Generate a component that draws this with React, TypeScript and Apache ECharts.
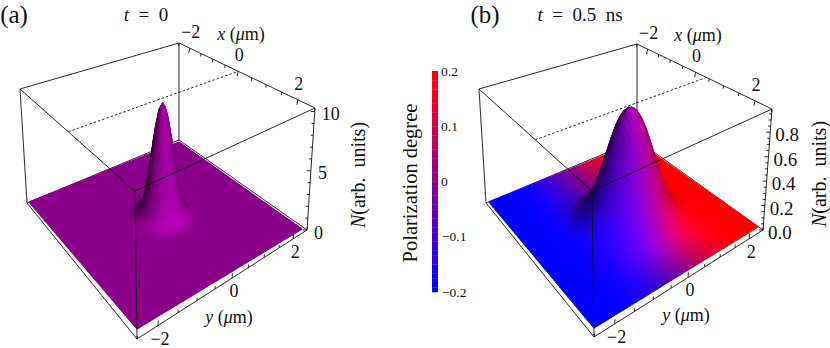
import React, { useEffect, useRef } from "react";
import * as echarts from "echarts";

// ---- values ----
const radiusUm = [0, 0.1, 0.2, 0.3, 0.4, 0.5, 0.6, 0.7, 0.8, 0.9, 1.0, 1.25, 1.5, 1.75, 2.0, 2.5, 4];
const densityA = [9.9, 9.1, 7.2, 4.85, 2.8, 1.35, 0.55, 0.2, 0.06, 0.015, 0, 0, 0, 0, 0, 0, 0];
const densityB = [0.97, 0.955, 0.915, 0.85, 0.765, 0.66, 0.56, 0.455, 0.36, 0.275, 0.205, 0.085, 0.03, 0.009, 0.002, 0, 0];
const polarY = [-2.5, -2, -1.5, -1, -0.5, 0, 0.5, 1, 1.5, 2, 2.5];
const polarB = [-0.2, -0.2, -0.18, -0.135, -0.07, 0, 0.075, 0.135, 0.178, 0.197, 0.2];
const polarA = [0, 0, 0, 0, 0, 0, 0, 0, 0, 0, 0];
const peakCentreA = 0;
const peakCentreB = 0.4;

const planeTicks = [-2.5, -2, -1.5, -1, -0.5, 0, 0.5, 1, 1.5, 2, 2.5];
const planeLabels = [-2, 0, 2];
const zTicksA = [0, 1, 2, 3, 4, 5, 6, 7, 8, 9, 10];
const zLabelsA = [0, 5, 10];
const zTicksB = [0, 0.05, 0.1, 0.15, 0.2, 0.25, 0.3, 0.35, 0.4, 0.45, 0.5, 0.55, 0.6, 0.65, 0.7, 0.75, 0.8, 0.85, 0.9, 0.95];
const zLabelsB = [0, 0.2, 0.4, 0.6, 0.8];
const colorbarLabels = [0.2, 0.1, 0, -0.1, -0.2];

// ---- layout ----
type P = [number, number];
const SERIF = "'Liberation Serif','Times New Roman',serif";
const WIDTH = 830;
const HEIGHT = 348;
const HALF = 2.5;

interface Panel {
  top: P[]; surface: P[]; bottom: P[]; zTop: number; steps: number; centre: number;
  radial: number[]; polar: number[]; zTicks: number[]; zLabels: number[]; zDigits: number;
}
// corner order: left (-,-), front (+,-), right (+,+), back (-,+)
const panelA: Panel = {
  top: [[20, 89], [135, 191], [315, 108], [179, 43]],
  surface: [[29, 202], [137, 329], [302, 229], [179, 142]],
  bottom: [[27, 203], [137, 339], [307, 230], [179, 140]],
  zTop: 10.3, steps: 80, centre: peakCentreA, radial: densityA, polar: polarA,
  zTicks: zTicksA, zLabels: zLabelsA, zDigits: 0,
};
const panelB: Panel = {
  top: [[479, 89], [592, 191], [772, 109], [637, 44]],
  surface: [[489, 202], [594, 328], [758, 227], [637, 142]],
  bottom: [[486, 203], [594, 337], [763, 230], [637, 140]],
  zTop: 0.99, steps: 60, centre: peakCentreB, radial: densityB, polar: polarB,
  zTicks: zTicksB, zLabels: zLabelsB, zDigits: 1,
};

function homography(q: P[]) {
  const [[x0, y0], [x1, y1], [x2, y2], [x3, y3]] = q;
  const dx1 = x1 - x2, dx2 = x3 - x2, dx3 = x0 - x1 + x2 - x3;
  const dy1 = y1 - y2, dy2 = y3 - y2, dy3 = y0 - y1 + y2 - y3;
  const den = dx1 * dy2 - dx2 * dy1;
  const g = (dx3 * dy2 - dx2 * dy3) / den;
  const h = (dx1 * dy3 - dx3 * dy1) / den;
  const a = x1 - x0 + g * x1, b = x3 - x0 + h * x3, d = y1 - y0 + g * y1, e = y3 - y0 + h * y3;
  return (x: number, y: number): P => {
    const u = (x + HALF) / (2 * HALF), v = (y + HALF) / (2 * HALF);
    const w = g * u + h * v + 1;
    return [(a * u + b * v + x0) / w, (d * u + e * v + y0) / w];
  };
}

// smooth read-out of a table of picture values
function lookup(xs: number[], ys: number[], v: number) {
  if (v <= xs[0]) return ys[0];
  const n = xs.length - 1;
  if (v >= xs[n]) return ys[n];
  let i = 0;
  while (xs[i + 1] < v) i++;
  const h = xs[i + 1] - xs[i];
  const t = (v - xs[i]) / h;
  const m0 = i > 0 ? (ys[i + 1] - ys[i - 1]) / (xs[i + 1] - xs[i - 1]) : 0;
  const m1 = i < n - 1 ? (ys[i + 2] - ys[i]) / (xs[i + 2] - xs[i]) : 0;
  const t2 = t * t, t3 = t2 * t;
  return (2 * t3 - 3 * t2 + 1) * ys[i] + (t3 - 2 * t2 + t) * h * m0 + (-2 * t3 + 3 * t2) * ys[i + 1] + (t3 - t2) * h * m1;
}

const LIGHT = (() => {
  const l = [0.75, -0.15, 0.65];
  const n = Math.hypot(l[0], l[1], l[2]);
  return l.map((c) => c / n);
})();

const COLOUR_GAIN = 278;

function buildSurface(p: Panel) {
  const h0 = homography(p.surface);
  const h1 = homography(p.top);
  const height = (x: number, y: number) => Math.max(0, lookup(radiusUm, p.radial, Math.hypot(x - p.centre, y)));
  const project = (x: number, y: number): P => {
    const f = height(x, y) / p.zTop;
    const a = h0(x, y), b = h1(x, y);
    return [a[0] + (b[0] - a[0]) * f, a[1] + (b[1] - a[1]) * f];
  };
  const pxPerZ = 118 / p.zTop;
  const pxPerUm = 39;
  const cells: { pts: P[]; fill: string; key: number }[] = [];
  const d = (2 * HALF) / p.steps;
  for (let i = 0; i < p.steps; i++) {
    for (let j = 0; j < p.steps; j++) {
      const x0 = -HALF + i * d, y0 = -HALF + j * d;
      const cx = x0 + d / 2, cy = y0 + d / 2;
      const hx = ((height(cx + d / 2, cy) - height(cx - d / 2, cy)) / d) * pxPerZ / pxPerUm;
      const hy = ((height(cx, cy + d / 2) - height(cx, cy - d / 2)) / d) * pxPerZ / pxPerUm;
      const nl = Math.hypot(hx, hy, 1);
      const dot = (-hx * LIGHT[0] - hy * LIGHT[1] + LIGHT[2]) / nl;
      const shade = Math.max(0.38, Math.min(1.35, (0.35 + 0.85 * dot) / (0.35 + 0.85 * LIGHT[2])));
      const pol = lookup(polarY, p.polar, cy);
      const t = (pol + 0.2) / 0.4;
      const r = Math.min(255, Math.min(255, COLOUR_GAIN * t) * shade);
      const b = Math.min(255, Math.min(255, COLOUR_GAIN * (1 - t)) * shade);
      cells.push({
        pts: [project(x0, y0), project(x0 + d, y0), project(x0 + d, y0 + d), project(x0, y0 + d)],
        fill: `rgb(${Math.round(r)},0,${Math.round(b)})`,
        key: cx - cy,
      });
    }
  }
  cells.sort((a, b) => a.key - b.key);
  return cells;
}

interface Seg { a: P; b: P; dash?: boolean }

function backSegments(p: Panel): Seg[] {
  const t = p.top, b = p.bottom;
  const h1 = homography(t);
  return [
    { a: t[0], b: t[3] }, { a: t[3], b: t[2] }, { a: b[3], b: t[3] },
    { a: b[0], b: b[3] }, { a: b[3], b: b[2] },
    { a: h1(p.centre, -HALF), b: h1(p.centre, HALF), dash: true },
  ];
}
function frontSegments(p: Panel): Seg[] {
  const t = p.top, b = p.bottom;
  const out: Seg[] = [
    { a: t[0], b: t[1] }, { a: t[1], b: t[2] },
    { a: t[0], b: b[0] }, { a: t[1], b: b[1] }, { a: t[2], b: b[2] },
    { a: b[0], b: b[1] }, { a: b[1], b: b[2] },
  ];
  const hTop = homography(t), hBot = homography(b);
  planeTicks.forEach((v) => {
    const major = planeLabels.includes(v);
    const q = hTop(v, HALF);
    out.push({ a: q, b: [q[0] - (major ? 1 : 0.5), q[1] + (major ? 5 : 3)] });
    const s = hBot(HALF, v);
    out.push({ a: s, b: [s[0] + 0.3, s[1] - (major ? 5 : 3)] });
  });
  p.zTicks.forEach((v) => {
    const q = zPoint(p, v);
    const major = p.zLabels.includes(v);
    out.push({ a: q, b: [q[0] - (major ? 4 : 2.5), q[1]] });
  });
  return out;
}
function zPoint(p: Panel, v: number): P {
  const f = v / p.zTop;
  const a = p.bottom[2], b = p.top[2];
  return [a[0] + (b[0] - a[0]) * f, a[1] + (b[1] - a[1]) * f];
}

const italic = { fontStyle: "italic" as const, fontFamily: SERIF };

function label(text: string, x: number, y: number, size: number, align = "center", rotation = 0): any {
  return {
    type: "text", x, y, rotation, silent: true,
    style: {
      text, fill: "#111", fontFamily: SERIF, fontSize: size, align, verticalAlign: "middle",
      rich: {
        i: { ...italic, fontSize: size, fill: "#111" },
      },
    },
  };
}
const fmt = (v: number, digits: number) => (v < 0 ? "\u2212" : "") + Math.abs(v).toFixed(digits);

function panelTexts(p: Panel, zSize: number, zOff: number) {
  const hTop = homography(p.top), hBot = homography(p.bottom);
  const out: any[] = [];
  planeLabels.forEach((v) => {
    const q = hTop(v, HALF);
    out.push(label(fmt(v, 0), q[0] + 1, q[1] - 16, 18));
    const s = hBot(HALF, v);
    out.push(label(fmt(v, 0), s[0] + 2, s[1] + 13, 18));
  });
  p.zLabels.forEach((v) => {
    const q = zPoint(p, v);
    out.push(label(fmt(v, p.zDigits), q[0] + zOff, q[1] + 2.5, zSize, "left"));
  });
  return out;
}

function lineSeries(segs: Seg[], z: number): any {
  return {
    type: "custom", coordinateSystem: "cartesian2d", silent: true, z, clip: false, progressive: 0,
    data: segs.map((s) => [s.a[0], s.a[1], s.b[0], s.b[1], s.dash ? 1 : 0]),
    renderItem: (_: any, api: any) => {
      const a = api.coord([api.value(0), api.value(1)]);
      const b = api.coord([api.value(2), api.value(3)]);
      return {
        type: "line", shape: { x1: a[0], y1: a[1], x2: b[0], y2: b[1] },
        style: { stroke: "#111", lineWidth: 0.9, lineDash: api.value(4) ? [2.5, 2] : null, fill: null },
      };
    },
  };
}

function surfaceSeries(p: Panel, z: number): any {
  const cells = buildSurface(p);
  return {
    type: "custom", coordinateSystem: "cartesian2d", silent: true, z, clip: false, progressive: 0,
    data: cells.map((c) => [c.pts[0][0], c.pts[0][1]]),
    renderItem: (params: any, api: any) => {
      const c = cells[params.dataIndex];
      return {
        type: "polygon",
        shape: { points: c.pts.map((q) => api.coord(q)) },
        style: { fill: c.fill, stroke: c.fill, lineWidth: 1.1, lineJoin: "round" },
      };
    },
  };
}

const BAR_X0 = 432, BAR_X1 = 438, BAR_TOP = 71, BAR_BOTTOM = 292, BAR_BANDS = 48;
function colorbarSeries(): any {
  const bands = Array.from({ length: BAR_BANDS }, (_, i) => i);
  return {
    type: "custom", coordinateSystem: "cartesian2d", silent: true, z: 2, clip: false, progressive: 0,
    data: bands.map((i) => [i]),
    renderItem: (_: any, api: any) => {
      const i = api.value(0);
      const h = (BAR_BOTTOM - BAR_TOP) / BAR_BANDS;
      const a = api.coord([BAR_X0, BAR_TOP + i * h]);
      const b = api.coord([BAR_X1, BAR_TOP + (i + 1) * h]);
      const t = 1 - (i + 0.5) / BAR_BANDS;
      const fill = `rgb(${Math.round(Math.min(255, COLOUR_GAIN * t))},0,${Math.round(Math.min(255, COLOUR_GAIN * (1 - t)))})`;
      return {
        type: "rect", shape: { x: a[0], y: a[1], width: b[0] - a[0], height: b[1] - a[1] + 0.3 },
        style: { fill },
      };
    },
  };
}

function buildOption(): any {
  const hidden = { show: false };
  const texts: any[] = [
    label("(a)", 14, 14, 25),
    label("{i|t}  =  0", 146, 14, 19),
    label("(b)", 485, 14, 25),
    label("{i|t}  =  0.5  ns", 580, 14, 19),
    label("{i|x} ({i|\u03bc}m)", 241, 34, 18),
    label("{i|x} ({i|\u03bc}m)", 698, 35, 18),
    label("{i|y} ({i|\u03bc}m)", 229, 317, 18),
    label("{i|y} ({i|\u03bc}m)", 686, 315, 18),
    label("{i|N}(arb.  units)", 358, 175, 20, "center", Math.PI / 2),
    label("{i|N}(arb.  units)", 819, 174, 20, "center", Math.PI / 2),
    label("Polarization degree", 410, 183, 20.5, "center", Math.PI / 2),
    ...panelTexts(panelA, 18, 7),
    ...panelTexts(panelB, 19, 5),
    ...colorbarLabels.map((v) =>
      label(fmt(v, v === 0 ? 0 : 1), v < 0 ? 442 : 441, BAR_BOTTOM - ((v + 0.2) / 0.4) * (BAR_BOTTOM - BAR_TOP), 13.5, "left")
    ),
  ];
  return {
    animation: false,
    backgroundColor: "#fff",
    grid: { left: 0, right: 0, top: 0, bottom: 0, show: false },
    xAxis: { type: "value", min: 0, max: WIDTH, ...hidden },
    yAxis: { type: "value", min: 0, max: HEIGHT, inverse: true, ...hidden },
    series: [
      lineSeries([...backSegments(panelA), ...backSegments(panelB)], 1),
      surfaceSeries(panelA, 2),
      surfaceSeries(panelB, 2),
      colorbarSeries(),
      lineSeries([...frontSegments(panelA), ...frontSegments(panelB)], 3),
    ],
    graphic: { elements: texts },
  };
}

export default function App() {
  const ref = useRef<HTMLDivElement>(null);
  useEffect(() => {
    document.body.style.margin = "0";
    const chart = echarts.init(ref.current!, undefined, { renderer: "svg" });
    chart.setOption(buildOption());
    return () => chart.dispose();
  }, []);
  return <div ref={ref} style={{ width: WIDTH, height: HEIGHT }} />;
}
